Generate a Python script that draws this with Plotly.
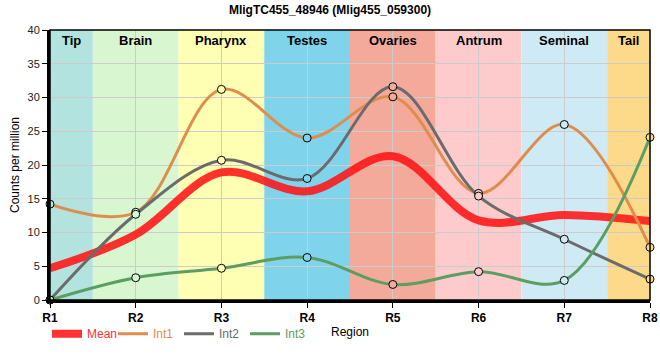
import plotly.graph_objects as go

regions = ["R1", "R2", "R3", "R4", "R5", "R6", "R7", "R8"]
bands = ["Tip", "Brain", "Pharynx", "Testes", "Ovaries", "Antrum", "Seminal", "Tail"]
mean_vals = [4.7, 9.7, 18.9, 16.1, 21.3, 11.8, 12.6, 11.7]
int1_vals = [14.2, 13.0, 31.2, 24.0, 30.1, 15.8, 26.0, 7.8]
int2_vals = [0.0, 12.7, 20.7, 18.0, 31.6, 15.4, 9.0, 3.1]
int3_vals = [0.0, 3.3, 4.7, 6.3, 2.3, 4.2, 2.9, 24.1]

band_colors = ["#b3e3df", "#d8f6d0", "#ffffb4", "#7fd4ec", "#f4aa9b", "#fdcbcc", "#ceebf5", "#fdda8a"]

x = list(range(len(regions)))
n = len(regions)

fig = go.Figure()

series = [
    ("Mean", mean_vals, "rgba(255,20,20,0.88)", 8, False, "#ff3030", 36),
    ("Int1", int1_vals, "#dd8e4e", 3, True, "#dd8e4e", 20),
    ("Int2", int2_vals, "#6b6b6b", 3, True, "#6b6b6b", 20),
    ("Int3", int3_vals, "#5a9e62", 3, True, "#5a9e62", 20),
]

for name, vals, col, w, mk, tcol, ew in series:
    fig.add_trace(go.Scatter(
        x=x, y=vals,
        name=f"<span style='color:{tcol}'>{name}</span>",
        mode="lines",
        line=dict(color=col, width=w, shape="spline", smoothing=1.0),
        cliponaxis=False,
    ))

for name, vals, col, w, mk, tcol, ew in series:
    if mk:
        fig.add_trace(go.Scatter(
            x=x, y=vals, mode="markers", showlegend=False, hoverinfo="skip",
            marker=dict(size=8, color=band_colors, line=dict(color="black", width=1)),
            cliponaxis=False,
        ))

shapes = []
annotations = []
for i, b in enumerate(bands):
    x0 = max(0, i - 0.5)
    x1 = min(n - 1, i + 0.5)
    shapes.append(dict(type="rect", xref="x", yref="paper", x0=x0, x1=x1, y0=0, y1=1,
                       fillcolor=band_colors[i], line=dict(width=0), layer="below"))
    annotations.append(dict(x=(x0 + x1) / 2, y=1, xref="x", yref="paper", text=f"<b>{b}</b>",
                            showarrow=False, yanchor="top", yshift=-1,
                            font=dict(size=13, color="black")))

shapes.append(dict(type="rect", xref="paper", yref="paper", x0=0, x1=1, y0=0, y1=1,
                   line=dict(color="black", width=1.5), layer="above"))

fig.update_layout(
    width=660, height=360,
    margin=dict(l=50, r=10, t=30, b=60, autoexpand=False),
    paper_bgcolor="white", plot_bgcolor="white",
    font=dict(family="Liberation Sans, Arial, sans-serif", size=12, color="black"),
    title=dict(text="<b>MligTC455_48946 (Mlig455_059300)</b>", x=0.5, xanchor="center",
               y=1 - 10 / 360, yanchor="middle", font=dict(size=12)),
    shapes=shapes, annotations=annotations,
    showlegend=True,
    legend=dict(orientation="h", x=-0.005, xanchor="left", y=-0.125, yanchor="middle",
                font=dict(size=12), bgcolor="rgba(0,0,0,0)", itemwidth=30,
                entrywidth=21, entrywidthmode="pixels"),
    xaxis=dict(range=[0, n - 1], tickvals=x, ticktext=regions, showgrid=True, automargin=False,
               gridcolor="#cccccc", gridwidth=1, showline=True, linecolor="black", linewidth=3,
               ticks="outside", ticklen=5, tickcolor="black", zeroline=False,
               tickfont=dict(size=12, weight="bold"),
               title=dict(text="Region", standoff=4, font=dict(size=12))),
    yaxis=dict(range=[0, 40], dtick=5, showgrid=True, gridcolor="#cccccc", gridwidth=1, automargin=False,
               showline=True, linecolor="black", linewidth=3, ticks="outside", ticklen=5,
               tickcolor="black", zeroline=False, tickfont=dict(size=11, color="#222"),
               title=dict(text="Counts per million", standoff=6, font=dict(size=12))),
)

fig.write_html("out.html", config={"displayModeBar": False},
               post_script="document.body.style.margin='0';")
